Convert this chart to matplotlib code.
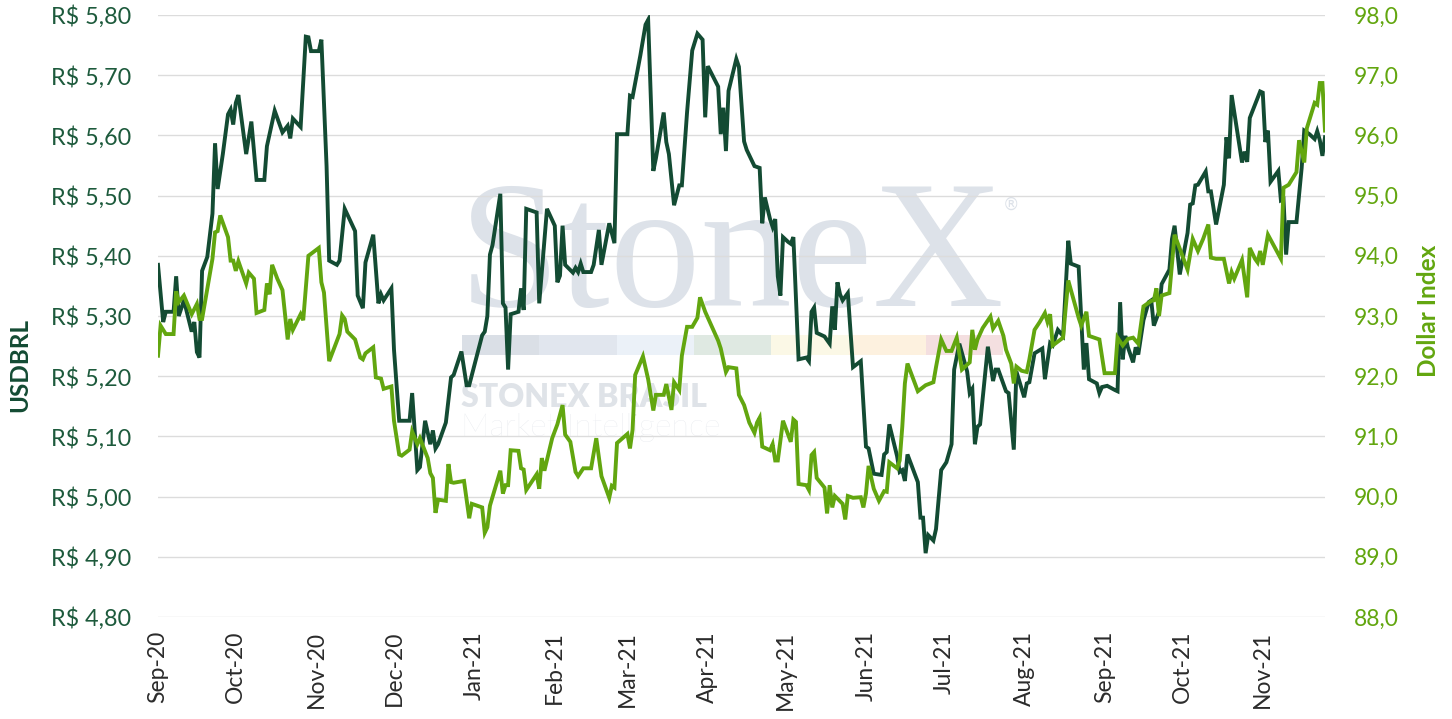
import matplotlib
matplotlib.use("Agg")
import matplotlib.pyplot as plt
import matplotlib.dates as mdates
from matplotlib.patches import Rectangle
from matplotlib.ticker import FuncFormatter
import pandas as pd

# (days since 2020-09-01, value)
usdbrl = [
    (0, 5.385), (2, 5.29), (3, 5.307), (6, 5.307), (7, 5.366), (8, 5.30), (10, 5.326), (13, 5.274),
    (14, 5.29), (15, 5.24), (16, 5.231), (17, 5.375), (19, 5.398), (21, 5.47), (22, 5.587), (23, 5.511),
    (25, 5.569), (27, 5.635), (28, 5.643), (29, 5.618), (30, 5.654), (31, 5.667), (34, 5.569), (36, 5.623),
    (38, 5.526), (41, 5.526), (42, 5.582), (45, 5.641), (48, 5.605), (50, 5.616), (51, 5.595), (52, 5.628),
    (55, 5.614), (57, 5.764), (58, 5.763), (59, 5.74), (62, 5.74), (63, 5.759), (65, 5.549), (66, 5.392),
    (69, 5.385), (70, 5.392), (72, 5.478), (76, 5.441), (77, 5.334), (79, 5.313), (80, 5.389), (83, 5.435),
    (85, 5.321), (86, 5.336), (87, 5.326), (90, 5.346), (91, 5.244), (93, 5.126), (97, 5.126), (98, 5.172),
    (100, 5.044), (101, 5.049), (103, 5.126), (105, 5.087), (106, 5.110), (107, 5.080), (108, 5.087),
    (111, 5.123), (113, 5.198), (114, 5.202), (117, 5.241), (119, 5.185), (120, 5.185), (125, 5.268),
    (126, 5.274), (127, 5.30), (128, 5.402), (129, 5.418), (132, 5.503), (133, 5.321), (134, 5.314),
    (135, 5.211), (136, 5.303), (139, 5.307), (140, 5.346), (141, 5.31), (142, 5.478), (146, 5.472),
    (147, 5.321), (150, 5.478), (153, 5.45), (154, 5.356), (155, 5.367), (156, 5.45), (157, 5.385),
    (160, 5.372), (161, 5.38), (162, 5.373), (163, 5.387), (164, 5.373), (167, 5.373), (168, 5.385),
    (170, 5.443), (171, 5.385), (174, 5.454), (176, 5.421), (177, 5.602), (181, 5.602), (182, 5.666),
    (183, 5.664), (186, 5.733), (188, 5.784), (189, 5.792), (191, 5.541), (192, 5.562), (195, 5.638),
    (196, 5.589), (197, 5.569), (199, 5.484), (201, 5.517), (202, 5.517), (204, 5.638), (206, 5.741),
    (208, 5.769), (210, 5.759), (211, 5.63), (212, 5.715), (216, 5.681), (217, 5.602), (218, 5.646),
    (219, 5.574), (220, 5.674), (223, 5.727), (224, 5.714), (226, 5.59), (227, 5.576), (230, 5.549),
    (232, 5.546), (233, 5.454), (234, 5.497), (236, 5.461), (237, 5.448), (238, 5.461), (239, 5.366),
    (240, 5.334), (241, 5.431), (243, 5.423), (244, 5.42), (245, 5.431), (247, 5.228), (250, 5.231),
    (251, 5.225), (252, 5.307), (253, 5.314), (254, 5.272), (257, 5.266), (259, 5.254), (260, 5.316),
    (261, 5.277), (262, 5.356), (263, 5.336), (264, 5.326), (266, 5.338), (268, 5.215), (271, 5.225),
    (273, 5.083), (274, 5.080), (276, 5.038), (279, 5.036), (280, 5.07), (281, 5.074), (282, 5.12),
    (285, 5.067), (286, 5.041), (287, 5.044), (288, 5.026), (289, 5.07), (293, 5.024), (294, 4.965),
    (295, 4.965), (296, 4.906), (297, 4.936), (299, 4.927), (300, 4.946), (301, 4.995), (302, 5.044),
    (304, 5.057), (306, 5.087), (307, 5.211), (309, 5.254), (312, 5.208), (313, 5.172), (314, 5.179),
    (315, 5.087), (316, 5.116), (317, 5.12), (320, 5.249), (322, 5.192), (323, 5.211), (324, 5.211),
    (327, 5.175), (328, 5.172), (330, 5.078), (331, 5.208), (334, 5.165), (335, 5.188), (336, 5.19),
    (338, 5.238), (341, 5.246), (342, 5.195), (344, 5.255), (345, 5.251), (347, 5.277), (349, 5.267),
    (351, 5.425), (352, 5.387), (355, 5.382), (357, 5.211), (358, 5.255), (359, 5.195), (362, 5.188),
    (363, 5.172), (364, 5.182), (366, 5.184), (369, 5.177), (370, 5.175), (371, 5.323), (372, 5.228),
    (373, 5.267), (374, 5.248), (376, 5.223), (377, 5.248), (378, 5.236), (380, 5.293), (382, 5.323),
    (383, 5.326), (384, 5.284), (386, 5.307), (387, 5.353), (390, 5.377), (391, 5.428), (392, 5.45),
    (394, 5.369), (397, 5.438), (398, 5.485), (399, 5.487), (400, 5.517), (401, 5.518), (404, 5.54),
    (405, 5.507), (406, 5.507), (408, 5.452), (411, 5.518), (412, 5.597), (413, 5.562), (414, 5.667),
    (418, 5.555), (419, 5.573), (420, 5.556), (421, 5.629), (423, 5.651), (425, 5.673), (426, 5.671),
    (427, 5.589), (428, 5.608), (429, 5.523), (432, 5.541), (433, 5.492), (434, 5.494), (435, 5.402),
    (436, 5.456), (439, 5.456), (441, 5.546), (442, 5.608), (444, 5.602), (446, 5.594), (447, 5.607),
    (448, 5.592), (449, 5.566), (450, 5.597),
]

dollar_index = [
    (0, 92.34), (1, 92.84), (3, 92.70), (6, 92.70), (7, 93.41), (8, 93.23), (10, 93.34), (13, 93.03),
    (15, 93.20), (16, 92.95), (17, 92.95), (21, 93.95), (22, 94.39), (23, 94.41), (24, 94.67), (27, 94.31),
    (28, 93.92), (29, 93.92), (30, 93.75), (31, 93.91), (34, 93.54), (35, 93.72), (37, 93.62), (38, 93.05),
    (41, 93.10), (42, 93.54), (43, 93.36), (44, 93.85), (46, 93.62), (48, 93.43), (50, 92.61), (51, 92.95),
    (52, 92.77), (55, 93.03), (56, 92.93), (58, 94.00), (62, 94.13), (63, 93.56), (64, 93.39), (66, 92.25),
    (70, 92.70), (71, 93.01), (72, 92.95), (73, 92.74), (76, 92.61), (78, 92.31), (79, 92.28), (80, 92.38),
    (83, 92.48), (84, 91.98), (86, 91.96), (87, 91.79), (90, 91.83), (91, 91.26), (93, 90.70), (94, 90.68),
    (97, 90.78), (98, 91.08), (100, 90.87), (101, 90.97), (104, 90.64), (105, 90.39), (106, 90.31),
    (107, 89.73), (108, 89.95), (111, 89.93), (112, 90.54), (113, 90.24), (114, 90.23), (118, 90.26),
    (120, 89.64), (121, 89.88), (125, 89.82), (126, 89.40), (127, 89.49), (128, 89.85), (132, 90.43),
    (133, 90.05), (134, 90.19), (135, 90.19), (136, 90.77), (139, 90.76), (140, 90.47), (141, 90.45),
    (142, 90.11), (146, 90.37), (147, 90.13), (148, 90.64), (149, 90.43), (152, 90.97), (154, 91.20),
    (156, 91.52), (157, 91.03), (159, 90.91), (161, 90.41), (162, 90.34), (164, 90.47), (167, 90.47),
    (169, 90.97), (171, 90.34), (174, 89.98), (175, 90.18), (176, 90.15), (177, 90.89), (181, 91.04),
    (182, 90.80), (183, 91.11), (184, 92.02), (187, 92.33), (189, 91.95), (191, 91.43), (192, 91.69),
    (195, 91.69), (196, 91.87), (198, 91.44), (199, 91.90), (201, 91.77), (202, 92.34), (204, 92.82),
    (206, 92.82), (208, 92.97), (209, 93.31), (211, 93.07), (216, 92.59), (217, 92.46), (219, 92.07),
    (220, 92.15), (223, 92.13), (224, 91.69), (226, 91.52), (228, 91.23), (230, 91.06), (231, 91.23),
    (232, 91.31), (233, 90.83), (236, 90.77), (237, 90.87), (238, 90.60), (239, 90.60), (241, 91.26),
    (244, 90.91), (245, 91.28), (246, 91.24), (247, 90.21), (250, 90.19), (251, 90.11), (252, 90.69),
    (253, 90.74), (254, 90.31), (257, 90.15), (258, 89.72), (259, 90.19), (260, 89.82), (261, 90.01),
    (264, 89.88), (265, 89.62), (266, 90.01), (268, 89.98), (271, 89.99), (272, 89.82), (273, 90.05),
    (274, 90.51), (276, 90.13), (278, 89.93), (280, 90.09), (281, 90.08), (282, 90.57), (285, 90.47),
    (286, 90.60), (287, 91.16), (288, 91.88), (289, 92.21), (293, 91.75), (296, 91.85), (299, 91.90),
    (300, 92.15), (302, 92.61), (304, 92.42), (306, 92.42), (308, 92.64), (310, 92.11), (313, 92.23),
    (314, 92.77), (315, 92.44), (316, 92.61), (318, 92.80), (321, 92.99), (322, 92.79), (324, 92.92),
    (326, 92.67), (327, 92.44), (329, 92.21), (330, 91.88), (331, 92.16), (333, 92.09), (335, 92.07),
    (336, 92.28), (338, 92.77), (340, 92.90), (342, 93.05), (343, 92.90), (344, 93.03), (345, 92.51),
    (349, 92.64), (350, 93.13), (351, 93.59), (355, 92.97), (356, 92.84), (358, 93.07), (359, 92.67),
    (363, 92.61), (365, 92.05), (369, 92.05), (370, 92.64), (372, 92.51), (374, 92.62), (376, 92.64),
    (378, 92.54), (380, 93.16), (383, 93.25), (384, 93.26), (385, 93.46), (386, 93.00), (387, 93.34),
    (390, 93.38), (392, 94.35), (397, 93.77), (399, 94.28), (401, 94.08), (403, 94.28), (405, 94.52),
    (406, 93.97), (408, 93.95), (411, 93.95), (413, 93.54), (414, 93.73), (415, 93.62), (418, 93.93),
    (420, 93.31), (421, 94.13), (423, 93.95), (424, 93.89), (425, 94.08), (426, 93.85), (428, 94.35),
    (433, 93.95), (434, 95.13), (436, 95.18), (439, 95.39), (440, 95.92), (442, 95.55), (443, 96.12),
    (446, 96.54), (447, 96.51), (448, 96.87), (449, 96.87), (450, 96.08),
]

start_date = pd.Timestamp("2020-09-01")
end_day = 450
usd_ticks = [4.8, 4.9, 5.0, 5.1, 5.2, 5.3, 5.4, 5.5, 5.6, 5.7, 5.8]
dxy_ticks = [88, 89, 90, 91, 92, 93, 94, 95, 96, 97, 98]

DARK = "#134b33"
LIGHT = "#62a60f"
W, H = 1452, 719

plt.rcParams["font.family"] = ["Lato", "DejaVu Sans"]


def to_dates(days):
    return start_date + pd.to_timedelta(list(days), unit="D")


def fx(px):
    return px / W


def fy(py):
    return 1 - py / H


fig = plt.figure(figsize=(W / 100, H / 100), dpi=100)
fig.patch.set_facecolor("white")

# faint StoneX watermark behind the plot
fig.text(fx(459), fy(306), "StoneX", family="Liberation Serif", fontsize=131,
         color="#dde2e9", zorder=-5, va="baseline", ha="left")
fig.text(fx(1003), fy(214), "\u00ae", family="DejaVu Sans", fontsize=12,
         color="#dde2e9", zorder=-5, va="bottom", ha="left")
band_colors = ["#dadfe6", "#e1e6ee", "#ebf1f8", "#dfe9e2", "#fbf8e6", "#fdf1df", "#f4dfe0"]
for i, c in enumerate(band_colors):
    fig.add_artist(Rectangle((fx(462 + i * 77.3), fy(355)), fx(77.3), 20 / H,
                             transform=fig.transFigure, facecolor=c, edgecolor="none", zorder=-5))
fig.text(fx(461), fy(407), "STONEX BRASIL", fontsize=23, fontweight="heavy",
         color="#dfe3e8", zorder=-5, va="baseline", ha="left")
fig.text(fx(461), fy(436), "Market Intelligence", fontsize=23, fontweight="light",
         color="#e2e5ea", zorder=-5, va="baseline", ha="left")

ax = fig.add_axes([fx(158), fy(617), fx(1325 - 158), (617 - 15) / H])
ax.patch.set_alpha(0)
ax2 = ax.twinx()
ax2.patch.set_alpha(0)

usd_days, usd_vals = zip(*usdbrl)
dxy_days, dxy_vals = zip(*dollar_index)
ax.plot(to_dates(usd_days), usd_vals, color=DARK, lw=2.8, solid_joinstyle="miter", zorder=3)
ax2.plot(to_dates(dxy_days), dxy_vals, color=LIGHT, lw=2.8, solid_joinstyle="miter", zorder=3)

ax.set_xlim(start_date, start_date + pd.Timedelta(days=end_day))
ax.set_ylim(4.8, 5.8)
ax2.set_ylim(88, 98)
ax.set_yticks(usd_ticks)
ax2.set_yticks(dxy_ticks)
ax.yaxis.set_major_formatter(FuncFormatter(lambda v, p: "R$ " + f"{v:.2f}".replace(".", ",")))
ax2.yaxis.set_major_formatter(FuncFormatter(lambda v, p: f"{v:.1f}".replace(".", ",")))

ax.xaxis.set_major_locator(mdates.MonthLocator())
ax.xaxis.set_major_formatter(mdates.DateFormatter("%b-%y"))

ax.yaxis.grid(True, color="#dcdcdc", lw=1.0)
ax.set_axisbelow(True)
for a in (ax, ax2):
    for s in a.spines.values():
        s.set_visible(False)
    a.tick_params(length=0)

ax.tick_params(axis="y", labelsize=16.8, labelcolor="#1d5a3c", pad=19)
ax2.tick_params(axis="y", labelsize=16.5, labelcolor=LIGHT, pad=21)
ax.tick_params(axis="x", labelsize=16.5, labelcolor="#2b2b2b", pad=10, labelrotation=90)

fig.text(fx(20), fy(365), "USDBRL", rotation=90, fontsize=17.5, fontweight="bold",
         color=DARK, ha="center", va="center")
fig.text(fx(1429), fy(311), "Dollar Index", rotation=90, fontsize=17.5, fontweight="bold",
         color=LIGHT, ha="center", va="center")

fig.savefig("out.png", dpi=100, facecolor="white")
